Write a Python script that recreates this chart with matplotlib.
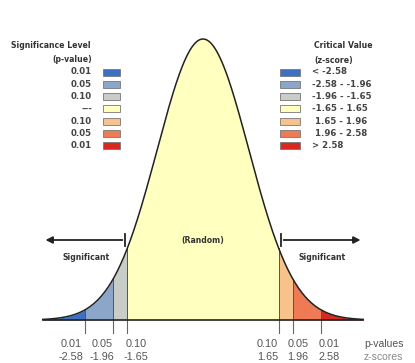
import numpy as np
import matplotlib.pyplot as plt
from matplotlib.patches import Rectangle

# критические значения z и уровни значимости
z_cuts = [-2.58, -1.96, -1.65, 1.65, 1.96, 2.58]
p_labels = ['0.01', '0.05', '0.10', '0.10', '0.05', '0.01']
z_labels = ['-2.58', '-1.96', '-1.65', '1.65', '1.96', '2.58']
region_colors = ['#3d6fc2', '#8ca6c9', '#c8cdc8', '#ffffc0', '#f8c28c', '#ef7b56', '#d8281f']
legend_p = ['0.01', '0.05', '0.10', '---', '0.10', '0.05', '0.01']
legend_z = ['< -2.58', '-2.58 - -1.96', '-1.96 - -1.65', '-1.65 - 1.65',
            ' 1.65 - 1.96', ' 1.96 - 2.58', '> 2.58']
z_min, z_max = -3.5, 3.5

W, H = 415, 363
# сдвиг подписей делений (px), чтобы не налезали друг на друга
label_shift = [-14, -11, 9, -11, 5, 8]


def pdf(z):
    return np.exp(-z ** 2 / 2) / np.sqrt(2 * np.pi)


def fx(px):
    return px / W


def fy(py):
    return 1 - py / H


fig = plt.figure(figsize=(W / 100, H / 100), dpi=100)
ax = fig.add_axes([0, 0, 1, 1])
ax.set_xlim(-203 / 45.8, (W - 203) / 45.8)
ax.set_ylim(-(H - 320) / 704.4, 320 / 704.4)
ax.axis('off')

plt.rcParams['font.family'] = ['Liberation Sans', 'DejaVu Sans']

# заливка областей
edges = [z_min] + z_cuts + [z_max]
for i in range(len(edges) - 1):
    xs = np.linspace(edges[i], edges[i + 1], 100)
    ax.fill_between(xs, 0, pdf(xs), color=region_colors[i], lw=0)
for z in z_cuts:
    ax.plot([z, z], [0, pdf(z)], color='#555555', lw=0.7)

xs = np.linspace(z_min, z_max, 400)
ax.plot(xs, pdf(xs), color='#222222', lw=1.1)
ax.plot([z_min, z_max], [0, 0], color='#222222', lw=1.2)

# деления и подписи
for z, p, zl, dx in zip(z_cuts, p_labels, z_labels, label_shift):
    ax.plot([z, z], [-0.002, -0.018], color='#666666', lw=0.8)
    xl = z + dx / 45.8
    ax.text(xl, -(344 - 320) / 704.4, p, ha='center', va='center', fontsize=7.8, color='#555555')
    ax.text(xl, -(357 - 320) / 704.4, zl, ha='center', va='center', fontsize=7.8, color='#555555')
fig.text(fx(364), fy(344), 'p-values', ha='left', va='center', fontsize=7.5, color='#555555')
fig.text(fx(364), fy(357), 'z-scores', ha='left', va='center', fontsize=7.5, color='#888888')

# стрелки
ya = (320 - 240) / 704.4
ax.annotate('', xy=(z_min, ya), xytext=(-1.70, ya),
            arrowprops=dict(arrowstyle='-|>', color='#222222', lw=1.3, mutation_scale=10))
ax.annotate('', xy=(z_max, ya), xytext=(1.70, ya),
            arrowprops=dict(arrowstyle='-|>', color='#222222', lw=1.3, mutation_scale=10))
for z in (-1.70, 1.70):
    ax.plot([z, z], [ya - 0.008, ya + 0.008], color='#222222', lw=1.3)

bold = dict(family='DejaVu Sans', fontweight='bold', color='#333333')
ax.text(0, ya, '(Random)', ha='center', va='center', fontsize=5.6, **bold)
ys = (320 - 258) / 704.4
ax.text(-2.55, ys, 'Significant', ha='center', va='center', fontsize=5.6, **bold)
ax.text(2.6, ys, 'Significant', ha='center', va='center', fontsize=5.6, **bold)

# легенды
fig.text(fx(51), fy(46), 'Significance Level', ha='center', va='center', fontsize=5.6, **bold)
fig.text(fx(92), fy(60), '(p-value)', ha='right', va='center', fontsize=5.6, **bold)
fig.text(fx(314), fy(46), 'Critical Value', ha='left', va='center', fontsize=5.6, **bold)
fig.text(fx(314), fy(60), '(z-score)', ha='left', va='center', fontsize=5.6, **bold)

row = dict(family='DejaVu Sans', fontweight='bold', color='#444444', fontsize=6.2)
for i in range(len(legend_p)):
    py = 72 + i * 12.3
    fig.text(fx(92), fy(py), legend_p[i], ha='right', va='center', **row)
    fig.text(fx(312), fy(py), legend_z[i], ha='left', va='center', **row)
    for x0, w in ((103, 17), (280, 20)):
        fig.patches.append(Rectangle((fx(x0), fy(py + 3.5)), w / W, 7 / H,
                                     transform=fig.transFigure, facecolor=region_colors[i],
                                     edgecolor='#777777', lw=0.6))

fig.savefig('out.png', dpi=100)
